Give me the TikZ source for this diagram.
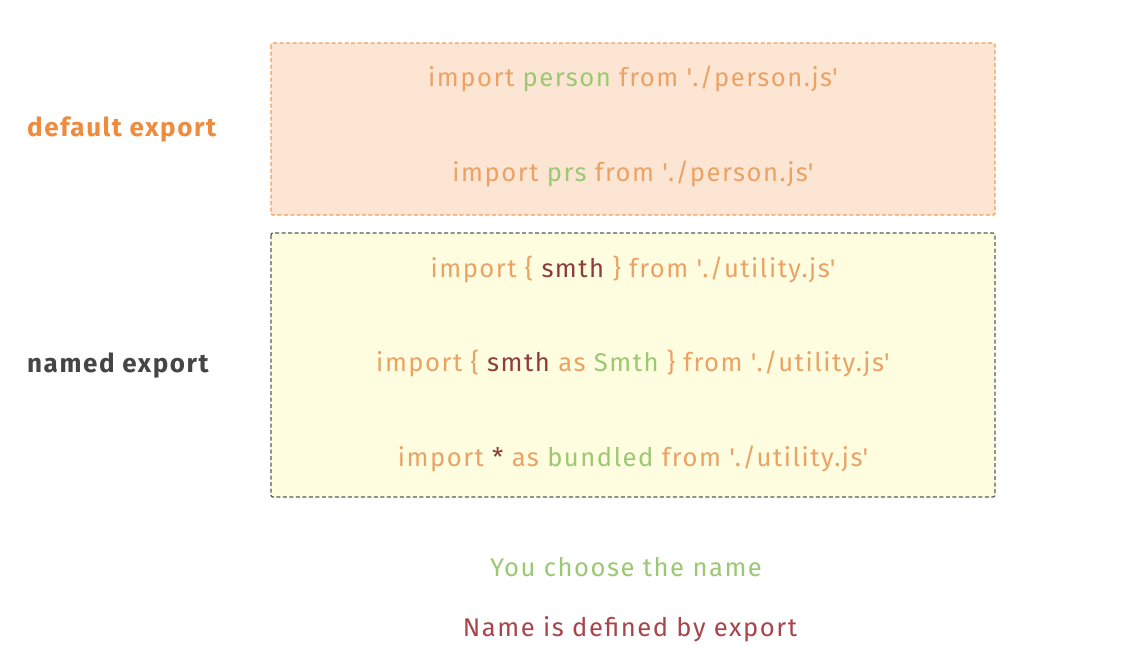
\documentclass[tikz,border=0pt]{standalone}
\usepackage{fontspec}
\setmainfont{Fira Sans}[LetterSpace=6.0]
\usepackage{tikz}
\definecolor{kwOrange}{HTML}{EAA265}
\definecolor{nmGreen}{HTML}{9CC873}
\definecolor{exRed}{HTML}{8E3B3E}
\definecolor{defRed}{HTML}{A8454B}
\definecolor{lblOrange}{HTML}{EE8B3D}
\definecolor{lblGray}{HTML}{454545}
\definecolor{boxPeach}{HTML}{FDE5D4}
\definecolor{boxYellow}{HTML}{FEFDDF}
\definecolor{edgeOrange}{HTML}{EE9E5C}
\definecolor{edgeGray}{HTML}{5A5A5A}
\newcommand{\nm}[1]{\textcolor{nmGreen}{#1}}
\newcommand{\ex}[1]{\textcolor{exRed}{#1}}
\newcommand{\q}{\textquotesingle}
\tikzset{
  codeline/.style={text=kwOrange, font=\fontsize{25.6}{30}\selectfont, inner sep=0pt, anchor=base},
  sidelabel/.style={anchor=base west, font=\fontsize{26}{30}\selectfont\bfseries, inner sep=0pt},
  groupbox/.style={line width=1.3pt, dash pattern=on 4pt off 2.5pt, rounded corners=2pt}
}
\begin{document}
\begin{tikzpicture}[x=1pt, y=-1pt]
    \useasboundingbox[fill=white] (0,0) rectangle (1128,659);
    %% Boxes
    \draw[groupbox, draw=edgeOrange, fill=boxPeach] (271,43) rectangle (995,215);
    \draw[groupbox, draw=edgeGray, fill=boxYellow] (271,233) rectangle (995,497);
    %% Side labels
    \node[sidelabel, text=lblOrange] (default) at (27,136) {default export};
    \node[sidelabel, text=lblGray] (named) at (27,372) {named export};
    %% Default imports
    \node[codeline] (person) at (633,86) {import \nm{person} from \q./person.js\q};
    \node[codeline] (prs) at (633,181) {import \nm{prs} from \q./person.js\q};
    %% Named imports
    \node[codeline] (smth) at (633,277) {import \{ \ex{smth} \} from \q./utility.js\q};
    \node[codeline] (alias) at (633,371) {import \{ \ex{smth} as \nm{Smth} \} from \q./utility.js\q};
    \node[codeline] (bundle) at (633,466) {import \ex{*} as \nm{bundled} from \q./utility.js\q};
    %% Legend
    \node[codeline, text=nmGreen] (choose) at (626,576) {You choose the name};
    \node[codeline, text=defRed] (defined) at (630,636) {Name is defined by export};
\end{tikzpicture}
\end{document}
